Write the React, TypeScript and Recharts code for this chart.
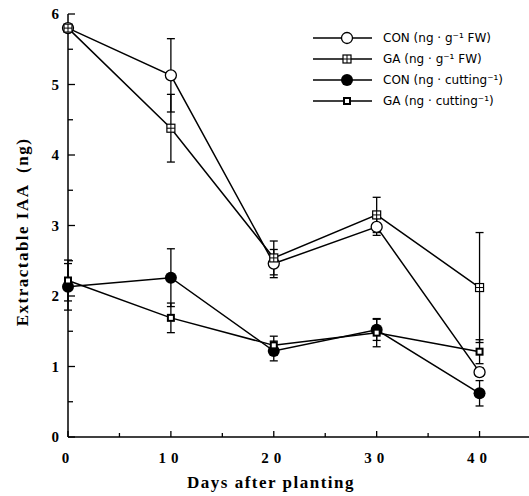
import React from 'react'
import { LineChart, Line, XAxis, YAxis, ErrorBar, Legend } from 'recharts'

// days after planting
const days = [0, 10, 20, 30, 40]

// extractable IAA
const conFw = [5.8, 5.13, 2.46, 2.98, 0.92]
const conFwErr = [0, 0.52, 0.2, 0.12, 0.06]
const gaFw = [5.8, 4.38, 2.54, 3.15, 2.12]
const gaFwErr = [0, 0.48, 0.24, 0.25, 0.78]
const conCut = [2.13, 2.26, 1.22, 1.52, 0.62]
const conCutErr = [0.33, 0.41, 0.14, 0.15, 0.18]
const gaCut = [2.22, 1.69, 1.3, 1.48, 1.21]
const gaCutErr = [0.29, 0.21, 0.13, 0.2, 0.17]

const dayTicks = [0, 5, 10, 15, 20, 25, 30, 35, 40, 45]
const dayLabels = [0, 10, 20, 30, 40]
const valueTicks = [0, 0.5, 1, 1.5, 2, 2.5, 3, 3.5, 4, 4.5, 5, 5.5, 6]
const valueLabels = [0, 1, 2, 3, 4, 5, 6]

const series = [
  { key: 'conFw', name: 'CON (ng · g⁻¹ FW)', marker: 'openCircle' },
  { key: 'gaFw', name: 'GA (ng · g⁻¹ FW)', marker: 'crossSquare' },
  { key: 'conCut', name: 'CON (ng · cutting⁻¹)', marker: 'filledCircle' },
  { key: 'gaCut', name: 'GA (ng · cutting⁻¹)', marker: 'smallSquare' },
]

const data = days.map((d, i) => ({
  day: d,
  conFw: conFw[i],
  conFwErr: conFwErr[i],
  gaFw: gaFw[i],
  gaFwErr: gaFwErr[i],
  conCut: conCut[i],
  conCutErr: conCutErr[i],
  gaCut: gaCut[i],
  gaCutErr: gaCutErr[i],
}))

const serif = '"Liberation Serif", "Times New Roman", serif'

function Marker({ type, cx, cy }: { type: string; cx: number; cy: number }) {
  if (type === 'openCircle')
    return <circle cx={cx} cy={cy} r={5.5} fill="#fff" stroke="#000" strokeWidth={1.3} />
  if (type === 'filledCircle') return <circle cx={cx} cy={cy} r={6} fill="#000" />
  if (type === 'crossSquare')
    return (
      <g>
        <rect x={cx - 4} y={cy - 4} width={8} height={8} fill="#fff" stroke="#000" strokeWidth={1.2} />
        <line x1={cx - 4} x2={cx + 4} y1={cy} y2={cy} stroke="#000" strokeWidth={1} />
        <line x1={cx} x2={cx} y1={cy - 4} y2={cy + 4} stroke="#000" strokeWidth={1} />
      </g>
    )
  return <rect x={cx - 3} y={cy - 3} width={6} height={6} fill="#fff" stroke="#000" strokeWidth={2} />
}

function LeftTick({ x, y, payload }: any) {
  const major = valueLabels.includes(payload.value)
  return (
    <g>
      <line x1={x} x2={x + (major ? 7 : 5)} y1={y} y2={y} stroke="#000" strokeWidth={1.3} />
      {major && (
        <text x={x - 9} y={y} dy={5} textAnchor="end" fontFamily={serif} fontWeight="bold" fontSize={15} fill="#000">
          {payload.value}
        </text>
      )}
    </g>
  )
}

function RightTick({ x, y, payload }: any) {
  const major = valueLabels.includes(payload.value)
  return <line x1={x - 2} x2={x - (major ? 10 : 6)} y1={y} y2={y} stroke="#000" strokeWidth={1.3} />
}

function BottomTick({ x, y, payload }: any) {
  const major = dayLabels.includes(payload.value)
  return (
    <g>
      <line x1={x} x2={x} y1={y} y2={y - (major ? 6 : 4)} stroke="#000" strokeWidth={1.3} />
      {major && (
        <text x={x} y={y} dy={26} textAnchor="middle" fontFamily={serif} fontWeight="bold" fontSize={15} letterSpacing={5} fill="#000">
          {payload.value}
        </text>
      )}
    </g>
  )
}

function TopTick({ x, y, payload }: any) {
  const major = dayLabels.includes(payload.value)
  return <line x1={x} x2={x} y1={y} y2={y + (major ? 6 : 4)} stroke="#000" strokeWidth={1.3} />
}

function LegendBox() {
  return (
    <svg width={215} height={90}>
      {series.map((s, i) => {
        const y = 10 + i * 21
        return (
          <g key={s.key}>
            <line x1={3} x2={62} y1={y} y2={y} stroke="#000" strokeWidth={1.4} />
            <Marker type={s.marker} cx={37} cy={y} />
            <text x={73} y={y} dy={4} fontFamily='"DejaVu Sans", sans-serif' fontSize={12} fill="#000">
              {s.name}
            </text>
          </g>
        )
      })}
    </svg>
  )
}

export default function App() {
  return (
    <div style={{ position: 'absolute', left: 0, top: 0, width: 529, height: 496, overflow: 'hidden', background: '#fff' }}>
      <LineChart width={545} height={496} data={data} margin={{ top: 14, right: 14, left: 0, bottom: 0 }}>
        <XAxis
          xAxisId="bottom"
          dataKey="day"
          type="number"
          domain={[0, 45]}
          ticks={dayTicks}
          interval={0}
          height={59}
          tickSize={0}
          tickMargin={0}
          tickLine={false}
          axisLine={{ stroke: '#000', strokeWidth: 1.5 }}
          tick={BottomTick}
          label={{
            value: 'Days after planting',
            content: () => (
              <text x={271} y={488} textAnchor="middle" fontFamily={serif} fontWeight="bold" fontSize={17} letterSpacing={1.5} fill="#000">
                Days after planting
              </text>
            ),
          }}
        />
        <XAxis
          xAxisId="top"
          orientation="top"
          dataKey="day"
          type="number"
          domain={[0, 45]}
          ticks={dayTicks}
          interval={0}
          height={0}
          tickSize={0}
          tickMargin={0}
          tickLine={false}
          axisLine={{ stroke: '#000', strokeWidth: 1.5 }}
          tick={TopTick}
        />
        <YAxis
          yAxisId="left"
          type="number"
          domain={[0, 6]}
          ticks={valueTicks}
          interval={0}
          width={68}
          tickSize={0}
          tickMargin={0}
          tickLine={false}
          axisLine={{ stroke: '#000', strokeWidth: 1.5 }}
          tick={LeftTick}
          label={{
            value: 'Extractable IAA (ng)',
            content: () => (
              <text
                transform="translate(28,232) rotate(-90)"
                textAnchor="middle"
                fontFamily={serif}
                fontWeight="bold"
                fontSize={17}
                letterSpacing={1.5}
                fill="#000"
                style={{ whiteSpace: 'pre' }}
              >
                {'Extractable IAA  (ng)'}
              </text>
            ),
          }}
        />
        <YAxis
          yAxisId="right"
          orientation="right"
          type="number"
          domain={[0, 6]}
          ticks={valueTicks}
          interval={0}
          width={0}
          tickSize={0}
          tickMargin={0}
          tickLine={false}
          axisLine={false}
          tick={RightTick}
        />
        <Legend
          layout="horizontal"
          verticalAlign="middle"
          align="center"
          wrapperStyle={{ position: 'absolute', left: 310, top: 28, width: 215, height: 90 }}
          content={() => <LegendBox />}
        />
        {series.map((s) => (
          <Line
            key={s.key}
            xAxisId="bottom"
            yAxisId="left"
            dataKey={s.key}
            name={s.name}
            stroke="#000"
            strokeWidth={1.5}
            isAnimationActive={false}
            dot={(p: any) => <Marker key={p.index} type={s.marker} cx={p.cx} cy={p.cy} />}
            activeDot={false}
          >
            <ErrorBar dataKey={s.key + 'Err'} width={4} stroke="#000" strokeWidth={1.3} direction="y" />
          </Line>
        ))}
      </LineChart>
    </div>
  )
}
